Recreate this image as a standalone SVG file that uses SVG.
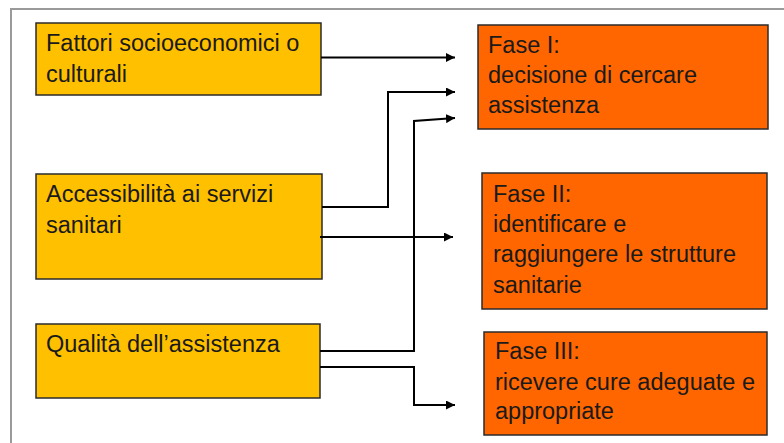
<svg xmlns="http://www.w3.org/2000/svg" width="784" height="443" viewBox="0 0 784 443">
<defs>
<marker id="arr" viewBox="0 0 10 10" refX="10" refY="5" markerWidth="4.5" markerHeight="4.5" orient="auto" markerUnits="strokeWidth">
<path d="M0,0 L10,5 L0,10 z" fill="#000"/>
</marker>
<style>
.frame{fill:none;stroke:#9a9a9a;stroke-width:2}
.y{fill:#FFC000;stroke:#2b2b2b;stroke-width:1.5}
.o{fill:#FF6600;stroke:#2b2b2b;stroke-width:1.5}
text{font-family:"Liberation Sans",Arial,sans-serif;font-size:23.5px;fill:#1a1a1a}
.c path{fill:none;stroke:#000;stroke-width:2;marker-end:url(#arr)}
</style>
</defs>
<rect width="784" height="443" fill="#fff"/>
<path class="frame" d="M11,443 V9 H784"/>
<g id="n1"><rect class="y" x="36" y="23" width="285" height="72"/>
<text x="46" y="51">Fattori socioeconomici o</text><text x="46" y="82">culturali</text></g>
<g id="n2"><rect class="y" x="36" y="174" width="286" height="105"/>
<text x="46" y="202">Accessibilità ai servizi</text><text x="46" y="233">sanitari</text></g>
<g id="n3"><rect class="y" x="36" y="324" width="284" height="74"/>
<text x="46" y="352">Qualità dell’assistenza</text></g>
<g id="f1"><rect class="o" x="478" y="25" width="290" height="104"/>
<text x="488" y="53">Fase I:</text><text x="488" y="83">decisione di cercare</text><text x="488" y="113">assistenza</text></g>
<g id="f2"><rect class="o" x="482" y="173" width="285" height="136"/>
<text x="493" y="202">Fase II:</text><text x="493" y="232">identificare e</text><text x="493" y="262">raggiungere le strutture</text><text x="493" y="293">sanitarie</text></g>
<g id="f3"><rect class="o" x="484" y="332" width="283" height="103"/>
<text x="495" y="359">Fase III:</text><text x="495" y="390">ricevere cure adeguate e</text><text x="495" y="419">appropriate</text></g>
<g class="c" id="connectors">
<path d="M321,57.5 H455"/>
<path d="M322,207 H388 V92 H455"/>
<path d="M320,351 H414 V121 L455,118"/>
<path d="M320,237 H453"/>
<path d="M320,367 H414 V405 H455"/>
</g>
</svg>
